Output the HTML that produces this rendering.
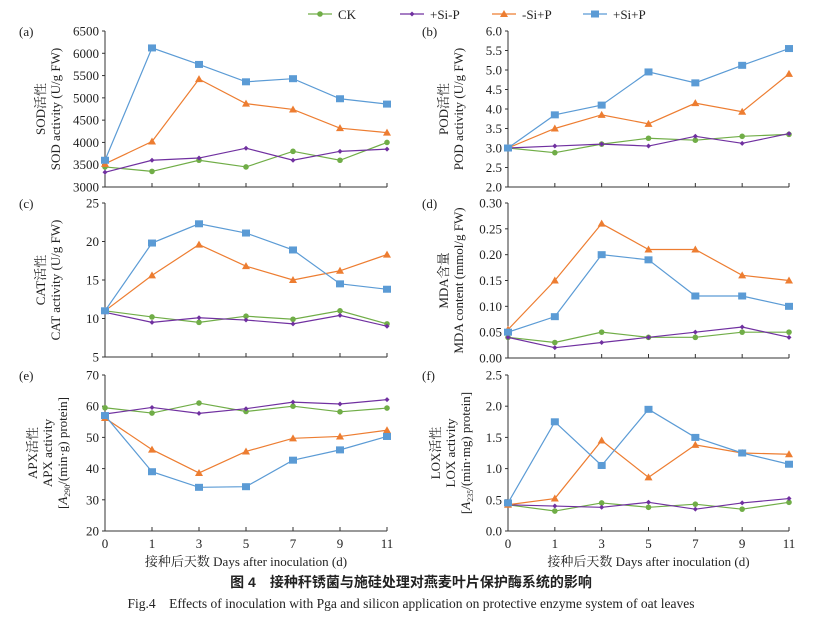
<!DOCTYPE html>
<html><head><meta charset="utf-8"><style>
body{margin:0;background:#fff}
svg text{font-family:"Liberation Serif","Noto Serif CJK SC",serif;fill:#222}
svg text.sans{font-family:"Liberation Sans","Noto Sans CJK SC",sans-serif}
</style></head><body>
<svg id="chart" width="822" height="617" viewBox="0 0 822 617" xmlns="http://www.w3.org/2000/svg"></svg>
<script>
const days=["0","1","3","5","7","9","11"];
const seriesNames=["CK","+Si-P","-Si+P","+Si+P"];
const sodCK=[3450,3350,3600,3450,3800,3600,4000];
const sodSiP=[3330,3600,3650,3870,3600,3800,3850];
const sodNSiPg=[3520,4020,5420,4870,4740,4320,4220];
const sodSiPg=[3600,6120,5750,5360,5430,4980,4860];
const podCK=[3.0,2.88,3.1,3.25,3.2,3.3,3.35];
const podSiP=[3.0,3.05,3.1,3.05,3.3,3.12,3.37];
const podNSiPg=[3.0,3.5,3.85,3.62,4.15,3.93,4.9];
const podSiPg=[3.0,3.85,4.1,4.95,4.67,5.12,5.55];
const catCK=[11,10.2,9.5,10.3,9.9,11,9.3];
const catSiP=[10.8,9.5,10.1,9.8,9.3,10.4,9.0];
const catNSiPg=[11,15.6,19.6,16.8,15.0,16.2,18.3];
const catSiPg=[11,19.8,22.3,21.1,18.9,14.5,13.8];
const mdaCK=[0.04,0.03,0.05,0.04,0.04,0.05,0.05];
const mdaSiP=[0.04,0.02,0.03,0.04,0.05,0.06,0.04];
const mdaNSiPg=[0.055,0.15,0.26,0.21,0.21,0.16,0.15];
const mdaSiPg=[0.05,0.08,0.20,0.19,0.12,0.12,0.10];
const apxCK=[59.5,57.8,61,58.3,60,58.2,59.4];
const apxSiP=[57.5,59.6,57.7,59.2,61.3,60.7,62.1];
const apxNSiPg=[56.2,46.1,38.6,45.5,49.7,50.3,52.3];
const apxSiPg=[57,39,34,34.2,42.7,46,50.3];
const loxCK=[0.42,0.32,0.45,0.38,0.43,0.35,0.46];
const loxSiP=[0.42,0.40,0.38,0.46,0.35,0.45,0.52];
const loxNSiPg=[0.42,0.52,1.45,0.86,1.38,1.25,1.23];
const loxSiPg=[0.45,1.75,1.05,1.95,1.50,1.25,1.07];
const sodTicks=["3000","3500","4000","4500","5000","5500","6000","6500"];
const podTicks=["2.0","2.5","3.0","3.5","4.0","4.5","5.0","5.5","6.0"];
const catTicks=["5","10","15","20","25"];
const mdaTicks=["0.00","0.05","0.10","0.15","0.20","0.25","0.30"];
const apxTicks=["20","30","40","50","60","70"];
const loxTicks=["0.0","0.5","1.0","1.5","2.0","2.5"];

const colors=["#70ad47","#7030a0","#ed7d31","#5b9bd5"];
const NS="http://www.w3.org/2000/svg";
const svg=document.getElementById('chart');
function mk(tag,attrs,parent,text){const e=document.createElementNS(NS,tag);for(const k in attrs)e.setAttribute(k,attrs[k]);if(text!==undefined)e.textContent=text;(parent||svg).appendChild(e);return e;}

function marker(g,type,x,y,c){
  let m;
  if(type===0){m=mk('circle',{cx:x,cy:y,r:2.8,fill:c},g);}
  else if(type===1){m=mk('path',{d:`M${x-2.5},${y}L${x},${y-2.5}L${x+2.5},${y}L${x},${y+2.5}Z`,fill:c},g);}
  else if(type===2){m=mk('path',{d:`M${x-4},${y+3}L${x},${y-4}L${x+4},${y+3}Z`,fill:c},g);}
  else {m=mk('rect',{x:x-4,y:y-3.5,width:8,height:7,fill:c},g);}
  return m;
}

function panel(id,letter,L,R,T,B,ticks,series,title1,title2,title3,showX){
  const g=mk('g',{});
  
  
  const lo=parseFloat(ticks[0]),hi=parseFloat(ticks[ticks.length-1]);
  const sx=i=>L+(R-L)*i/(days.length-1);
  const sy=v=>B-(B-T)*(v-lo)/(hi-lo);
  mk('text',{x:L-86,y:T+5,'font-size':13},g,letter);
  const ax=mk('path',{d:`M${L},${T}L${L},${B}L${R},${B}`,stroke:'#333','stroke-width':1,fill:'none'},g);
  
  
  ticks.forEach(t=>{const y=sy(parseFloat(t));
    mk('line',{x1:L-3,x2:L,y1:y,y2:y,stroke:'#333'},g);
    const tl=mk('text',{x:L-6,y:y+4.5,'text-anchor':'end','font-size':13},g,t);
    
    
  });
  days.forEach((d,i)=>{const x=sx(i);
    mk('line',{x1:x,x2:x,y1:B-4,y2:B,stroke:'#333'},g);
    if(showX){const xl=mk('text',{x:x,y:B+17,'text-anchor':'middle','font-size':13},g,d);
      
      }
  });
  const cy=(T+B)/2;
  const lines=[title1,title2,title3].filter(Boolean);
  const base=lines.length===3?L-68:L-60;
  lines.forEach((s,k)=>{
    const tx=base+k*15;
    const t=mk('text',{x:tx,y:cy,transform:`rotate(-90 ${tx} ${cy})`,'text-anchor':'middle','font-size':13},g);
    t.innerHTML=s;
    
    
  });
  series.forEach((vals,si)=>{
    const pts=vals.map((v,i)=>sx(i)+','+sy(v)).join(' ');
    const pl=mk('polyline',{points:pts,fill:'none',stroke:colors[si],'stroke-width':1.2},g);
    
    
    vals.forEach((v,i)=>{
      const m=marker(g,si,sx(i),sy(v),colors[si]);
      
      
    });
  });
  if(showX){
    const at=mk('text',{x:(L+R)/2,y:B+35,'text-anchor':'middle','font-size':13},g,'接种后天数 Days after inoculation (d)');
    
    
  }
}
const LL=105,LR=387,RL=508,RR=789;
panel('sod','(a)',LL,LR,31,187,sodTicks,[sodCK,sodSiP,sodNSiPg,sodSiPg],'SOD活性','SOD activity (U/g FW)',null,false);
panel('pod','(b)',RL,RR,31,187,podTicks,[podCK,podSiP,podNSiPg,podSiPg],'POD活性','POD activity (U/g FW)',null,false);
panel('cat','(c)',LL,LR,203,357,catTicks,[catCK,catSiP,catNSiPg,catSiPg],'CAT活性','CAT activity (U/g FW)',null,false);
panel('mda','(d)',RL,RR,203,358,mdaTicks,[mdaCK,mdaSiP,mdaNSiPg,mdaSiPg],'MDA含量','MDA content (mmol/g FW)',null,false);
panel('apx','(e)',LL,LR,375,531,apxTicks,[apxCK,apxSiP,apxNSiPg,apxSiPg],'APX活性','APX activity','[<tspan font-style="italic">A</tspan><tspan font-size="8" dy="3">290</tspan><tspan dy="-3">/(min·g) protein]</tspan>',true);
panel('lox','(f)',RL,RR,375,531,loxTicks,[loxCK,loxSiP,loxNSiPg,loxSiPg],'LOX活性','LOX activity','[<tspan font-style="italic">A</tspan><tspan font-size="8" dy="3">235</tspan><tspan dy="-3">/(min·mg) protein]</tspan>',true);

const lg=mk('g',{});


const lx=[308,400,492,583];
seriesNames.forEach((n,i)=>{
  const e=mk('g',{},lg);
  
  
  mk('line',{x1:lx[i],x2:lx[i]+24,y1:14,y2:14,stroke:colors[i],'stroke-width':1.2},e);
  marker(e,i,lx[i]+12,14,colors[i]);
  mk('text',{x:lx[i]+30,y:19,'font-size':13},e,n);
});
const c1=mk('text',{x:411,y:587,'text-anchor':'middle','font-size':14,'font-weight':'bold','class':'sans'},svg,'图 4　接种秆锈菌与施硅处理对燕麦叶片保护酶系统的影响');


const c2=mk('text',{x:411,y:608,'text-anchor':'middle','font-size':13.5},svg,'Fig.4　Effects of inoculation with Pga and silicon application on protective enzyme system of oat leaves');


</script>
</body></html>
